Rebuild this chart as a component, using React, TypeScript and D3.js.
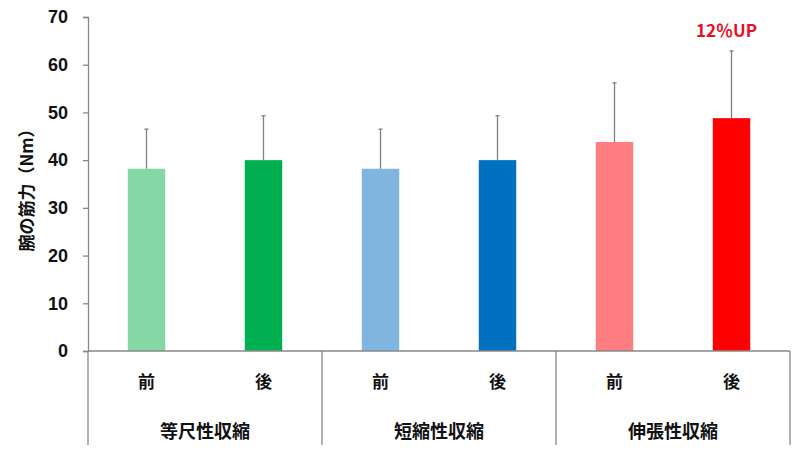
import { useEffect, useRef } from "react";
import * as d3 from "d3";

// groups, conditions and values
const groups = ["等尺性収縮", "短縮性収縮", "伸張性収縮"];
const phases = ["前", "後"];
const means = [38.2, 40.0, 38.2, 40.0, 43.8, 48.8];
const sds = [8.3, 9.3, 8.3, 9.3, 12.4, 14.1];
const barColors = ["#85D7A6", "#00B050", "#7FB5DF", "#0070C0", "#FF7C80", "#FF0000"];
const yTicks = [0, 10, 20, 30, 40, 50, 60, 70];
const note = "12％UP";

const jp = "'Noto Sans CJK JP', 'Noto Sans', sans-serif";
const num = "'Liberation Sans', Arial, sans-serif";

export default function App() {
  const svgRef = useRef<SVGSVGElement | null>(null);

  useEffect(() => {
    const svg = d3.select(svgRef.current);
    svg.selectAll("*").remove();
    const width = 800;
    const height = 450;
    const margin = { top: 17, right: 10, bottom: 99, left: 88 };
    const axisColor = "#888";

    const keys = groups.flatMap((g) => phases.map((p) => `${g}-${p}`));

    const x = d3
      .scaleBand()
      .domain(keys)
      .range([margin.left, width - margin.right])
      .paddingInner(0.68)
      .paddingOuter(0.34);

    const y = d3
      .scaleLinear()
      .domain([0, 70])
      .range([height - margin.bottom, margin.top]);

    const g = svg.append("g");
    const slot = x.step();

    // bars
    g.append("g")
      .selectAll("rect")
      .data(means)
      .join("rect")
      .attr("x", (_, i) => x(keys[i])!)
      .attr("y", (d) => y(d))
      .attr("width", x.bandwidth())
      .attr("height", (d) => y(0) - y(d))
      .attr("fill", (_, i) => barColors[i]);

    // error bars (upper only)
    const err = g.append("g").attr("stroke", "#7f7f7f").attr("stroke-width", 1.3);
    means.forEach((m, i) => {
      const cx = x(keys[i])! + x.bandwidth() / 2;
      err
        .append("line")
        .attr("x1", cx)
        .attr("x2", cx)
        .attr("y1", y(m))
        .attr("y2", y(m + sds[i]));
      err
        .append("line")
        .attr("x1", cx - 2)
        .attr("x2", cx + 2)
        .attr("y1", y(m + sds[i]))
        .attr("y2", y(m + sds[i]));
    });

    // y axis
    const yAxis = g
      .append("g")
      .attr("transform", `translate(${margin.left},0)`)
      .call(d3.axisLeft(y).tickValues(yTicks).tickSize(5).tickPadding(15));
    yAxis.select(".domain").attr("stroke", axisColor).attr("stroke-width", 1.3);
    yAxis.selectAll(".tick line").attr("stroke", axisColor).attr("stroke-width", 1.3);
    yAxis
      .selectAll(".tick text")
      .attr("font-family", num)
      .attr("font-weight", "bold")
      .attr("font-size", 18)
      .attr("fill", "#111");

    // x axis line
    g.append("line")
      .attr("x1", margin.left)
      .attr("x2", width - margin.right)
      .attr("y1", y(0))
      .attr("y2", y(0))
      .attr("stroke", axisColor)
      .attr("stroke-width", 1.3);

    // group separators
    [0, 1, 2, 3].forEach((k) => {
      const sx = margin.left + k * slot * 2;
      g.append("line")
        .attr("x1", sx)
        .attr("x2", sx)
        .attr("y1", y(0))
        .attr("y2", 445)
        .attr("stroke", axisColor)
        .attr("stroke-width", 1.3);
    });

    // phase labels
    g.append("g")
      .selectAll("text")
      .data(keys)
      .join("text")
      .attr("x", (d) => x(d)! + x.bandwidth() / 2)
      .attr("y", 388)
      .attr("text-anchor", "middle")
      .attr("font-family", jp)
      .attr("font-weight", "bold")
      .attr("font-size", 17)
      .attr("fill", "#111")
      .text((_, i) => phases[i % 2]);

    // group labels
    g.append("g")
      .selectAll("text")
      .data(groups)
      .join("text")
      .attr("x", (_, i) => margin.left + (i * 2 + 1) * slot)
      .attr("y", 438)
      .attr("text-anchor", "middle")
      .attr("font-family", jp)
      .attr("font-weight", "bold")
      .attr("font-size", 18)
      .attr("fill", "#111")
      .text((d) => d);

    // y label
    g.append("text")
      .attr("transform", `translate(33,${186}) rotate(-90)`)
      .attr("text-anchor", "middle")
      .attr("font-family", jp)
      .attr("font-weight", "bold")
      .attr("font-size", 17)
      .attr("fill", "#111")
      .text("腕の筋力（Nm）");

    // annotation
    const lastKey = keys[keys.length - 1];
    g.append("text")
      .attr("x", x(lastKey)! + x.bandwidth() / 2 - 5)
      .attr("y", 37)
      .attr("text-anchor", "middle")
      .attr("font-family", jp)
      .attr("font-weight", "bold")
      .attr("font-size", 17)
      .attr("fill", "#E8101E")
      .text(note);
  }, []);

  return (
    <svg
      ref={svgRef}
      width={800}
      height={450}
      style={{ position: "absolute", left: 0, top: 0, background: "#fff" }}
    ></svg>
  );
}
